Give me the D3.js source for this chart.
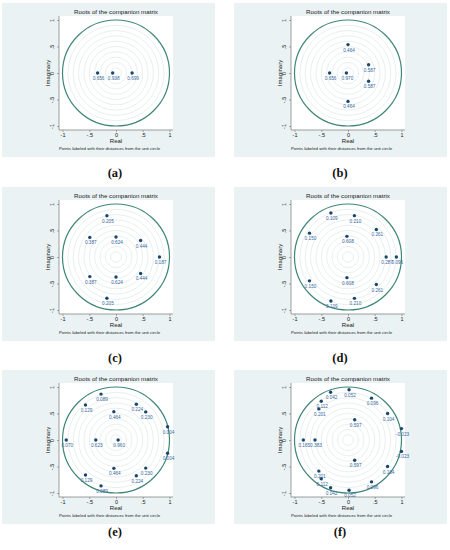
<!DOCTYPE html>
<html lang="en">
<head>
<meta charset="utf-8">
<title>Roots of the companion matrix</title>
<script src="https://d3js.org/d3.v7.min.js"></script>
<style>
  body { margin: 0; background: #fff; }
  svg { display: block; font-family: "Liberation Sans", Arial, sans-serif; }
</style>
</head>
<body>
<div id="chart"></div>
<script>
// roots for each panel: real part, imaginary part, distance from unit circle
var reA = [-0.344, -0.062, 0.301];
var imA = [0, 0, 0];
var labA = ["0.656", "0.938", "0.699"];

var reB = [0, 0, -0.344, -0.030, 0.385, 0.385];
var imB = [0.536, -0.536, 0, 0, 0.155, -0.155];
var labB = ["0.464", "0.464", "0.656", "0.970", "0.587", "0.587"];

var reC = [-0.17, -0.17, -0.49, -0.49, 0, 0, 0.46, 0.46, 0.813];
var imC = [0.777, -0.777, 0.37, -0.37, 0.376, -0.376, 0.31, -0.31, 0];
var labC = ["0.205", "0.205", "0.387", "0.387", "0.624", "0.624", "0.444", "0.444", "0.187"];

var reD = [-0.32, -0.32, 0.12, 0.12, -0.72, -0.72, 0.53, 0.53, -0.02, -0.02, 0.713, 0.904];
var imD = [0.83, -0.83, 0.78, -0.78, 0.45, -0.45, 0.52, -0.52, 0.39, -0.39, 0, 0];
var labD = ["0.109", "0.109", "0.210", "0.210", "0.150", "0.150", "0.261", "0.261", "0.608", "0.608", "0.287", "0.096"];

var reE = [-0.28, -0.28, -0.57, -0.57, 0.38, 0.38, 0.555, 0.555, -0.04, -0.04, 0.964, 0.964, -0.93, -0.377, 0.04];
var imE = [0.866, -0.866, 0.66, -0.66, 0.675, -0.675, 0.53, -0.53, 0.535, -0.535, 0.25, -0.25, 0, 0, 0];
var labE = ["0.089", "0.089", "0.129", "0.129", "0.224", "0.224", "0.230", "0.230", "0.464", "0.464", "0.004", "0.004", "0.070", "0.623", "0.960"];

var reF = [-0.325, -0.325, 0.02, 0.02, -0.50, -0.50, -0.545, -0.545, 0.44, 0.44, 0.74, 0.74, 1.0, 1.0, 0.125, 0.125, -0.835, -0.617];
var imF = [0.90, -0.90, 0.948, -0.948, 0.73, -0.73, 0.587, -0.587, 0.79, -0.79, 0.50, -0.50, 0.215, -0.215, 0.383, -0.383, 0, 0];
var labF = ["0.042", "0.042", "0.052", "0.052", "0.112", "0.112", "0.201", "0.201", "0.096", "0.096", "0.104", "0.104", "-0.023", "-0.023", "0.597", "0.597", "0.165", "0.383"];

var panelNames = ["(a)", "(b)", "(c)", "(d)", "(e)", "(f)"];
var tickVals = [-1, -0.5, 0, 0.5, 1];
var tickText = ["-1", "-.5", "0", ".5", "1"];
var rings = [0.1, 0.2, 0.3, 0.4, 0.5, 0.6, 0.7, 0.8, 0.9];
var title = "Roots of the companion matrix";
var note = "Points labeled with their distances from the unit circle";

var allRe = [reA, reB, reC, reD, reE, reF];
var allIm = [imA, imB, imC, imD, imE, imF];
var allLab = [labA, labB, labC, labD, labE, labF];

var width = 450, height = 550;
var colX = [116, 348];      // panel centres
var rowY = [73, 257, 440];
var nameX = [115, 340];
var nameY = [173, 358, 532];

var svg = d3.select("#chart").append("svg")
    .attr("width", width)
    .attr("height", height);

function drawPanel(i) {
    var cx = colX[i % 2], cy = rowY[Math.floor(i / 2)];
    var x = d3.scaleLinear().domain([-1, 1]).range([cx - 53.5, cx + 53.5]);
    var y = d3.scaleLinear().domain([-1, 1]).range([cy + 53, cy - 53]);
    var g = svg.append("g");

    // graph region and plot region
    g.append("rect")
        .attr("x", cx - 114).attr("y", cy - 70)
        .attr("width", 213).attr("height", 154)
        .attr("fill", "#eaf2f3");
    g.append("rect")
        .attr("x", cx - 57).attr("y", cy - 57)
        .attr("width", 114).attr("height", 114)
        .attr("fill", "#fff");

    g.append("text")
        .attr("x", cx).attr("y", cy - 59)
        .attr("text-anchor", "middle")
        .attr("font-size", 6.2).attr("fill", "#222")
        .text(title);

    // grid rings
    g.selectAll(".ring").data(rings).enter().append("ellipse")
        .attr("cx", x(0)).attr("cy", y(0))
        .attr("rx", function(d) { return x(d) - x(0); })
        .attr("ry", function(d) { return y(0) - y(d); })
        .attr("fill", "none")
        .attr("stroke", "#d7e6e2")
        .attr("stroke-width", 0.6);

    // unit circle
    g.append("ellipse")
        .attr("cx", x(0)).attr("cy", y(0))
        .attr("rx", x(1) - x(0)).attr("ry", y(0) - y(1))
        .attr("fill", "none")
        .attr("stroke", "#3f8677")
        .attr("stroke-width", 1.2);

    // axes
    var xAxis = d3.axisBottom(x).tickValues(tickVals).tickSize(2).tickPadding(1)
        .tickFormat(function(d, k) { return tickText[k]; });
    var gx = g.append("g").attr("transform", "translate(0," + (cy + 57) + ")").call(xAxis);
    gx.select(".domain").attr("d", "M" + (cx - 57) + ",0H" + (cx + 57)).attr("stroke", "#777").attr("stroke-width", 0.7);
    gx.selectAll(".tick line").attr("stroke", "#777").attr("stroke-width", 0.6);
    gx.selectAll(".tick text").attr("font-size", 5.5).attr("fill", "#222").attr("font-family", null);

    var yAxis = d3.axisLeft(y).tickValues(tickVals).tickSize(2).tickPadding(1)
        .tickFormat(function(d, k) { return tickText[k]; });
    var gy = g.append("g").attr("transform", "translate(" + (cx - 57) + ",0)").call(yAxis);
    gy.select(".domain").attr("d", "M0," + (cy - 57) + "V" + (cy + 57)).attr("stroke", "#777").attr("stroke-width", 0.7);
    gy.selectAll(".tick line").attr("stroke", "#777").attr("stroke-width", 0.6);
    gy.selectAll(".tick text")
        .attr("font-size", 5.5).attr("fill", "#222").attr("font-family", null)
        .attr("text-anchor", "middle").attr("dy", null).attr("x", null)
        .attr("transform", "translate(-5,0) rotate(-90)");

    g.append("text")
        .attr("x", cx).attr("y", cy + 70)
        .attr("text-anchor", "middle")
        .attr("font-size", 6).attr("fill", "#222")
        .text("Real");
    g.append("text")
        .attr("transform", "translate(" + (cx - 66) + "," + cy + ") rotate(-90)")
        .attr("text-anchor", "middle")
        .attr("font-size", 6).attr("fill", "#222")
        .text("Imaginary");
    g.append("text")
        .attr("x", cx - 57).attr("y", cy + 77)
        .attr("font-size", 4.3).attr("fill", "#222")
        .text(note);

    // roots
    var re = allRe[i], im = allIm[i], lab = allLab[i];
    g.selectAll(".pt").data(re).enter().append("circle")
        .attr("cx", function(d) { return x(d); })
        .attr("cy", function(d, k) { return y(im[k]); })
        .attr("r", 1.7)
        .attr("fill", "#1a476f");
    g.selectAll(".lab").data(re).enter().append("text")
        .attr("x", function(d) { return x(d) + 1; })
        .attr("y", function(d, k) { return y(im[k]) + 7; })
        .attr("text-anchor", "middle")
        .attr("font-size", 4.7)
        .attr("fill", "#3a6a9c")
        .text(function(d, k) { return lab[k]; });

    svg.append("text")
        .attr("x", nameX[i % 2]).attr("y", nameY[Math.floor(i / 2)] + 4)
        .attr("text-anchor", "middle")
        .attr("font-family", "'Liberation Serif', 'DejaVu Serif', serif")
        .attr("font-size", 12.5).attr("font-weight", "bold")
        .attr("fill", "#111")
        .text(panelNames[i]);
}

for (var i = 0; i < 6; i++) {
    drawPanel(i);
}
</script>
</body>
</html>
